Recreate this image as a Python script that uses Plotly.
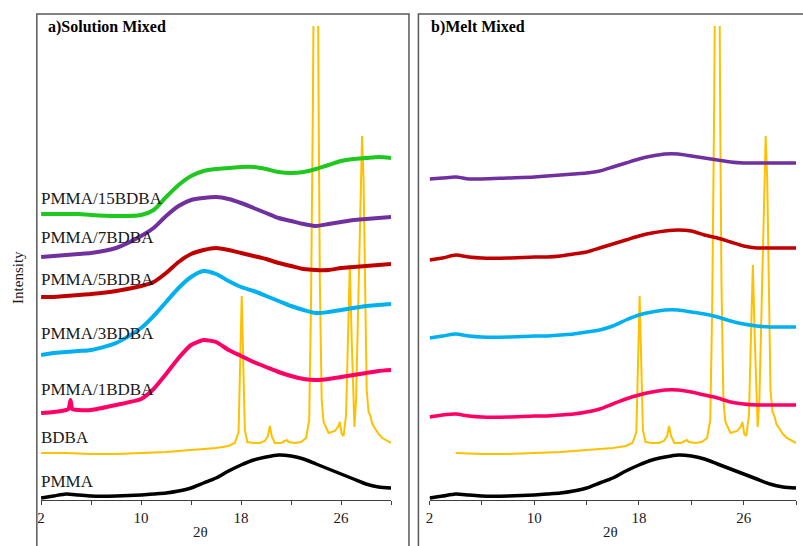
import plotly.graph_objects as go

W, H = 803, 546

# 2-theta grid used for the amorphous (polymer) scans
two_theta = [2, 3, 4, 5, 6, 8, 10, 11, 12, 13, 14, 15, 16, 17, 18, 19, 20,
             21, 22, 23, 24, 25, 26, 27, 28, 29, 30]

# Neat PMMA (same scan in both panels)
pmma = [2, 4, 6, 5, 4, 4, 5, 6, 7, 9, 12, 17, 22, 29, 35, 40, 43, 45, 44, 41,
        36, 31, 26, 21, 16, 13, 12]

# Neat BDBA crystalline pattern
bdba_x = [2, 4, 6, 8, 10, 12, 14, 16, 17, 17.5, 17.8, 17.95, 18.05, 18.15,
          18.3, 18.5, 19.0, 19.5, 19.9, 20.15, 20.3, 20.45, 20.7, 21.2, 21.5,
          21.65, 21.8, 22.3, 22.8, 23.2, 23.45, 23.6, 23.75, 24.0, 24.2, 24.3,
          24.45, 24.6, 25.0, 25.5, 25.8, 25.9, 26.05, 26.2, 26.4, 26.55, 26.7,
          26.85, 27.0, 27.07, 27.2, 27.4, 27.55, 27.68, 27.8, 27.92, 28.05,
          28.2, 28.35, 28.5, 28.7, 29.0, 29.3, 29.6, 29.9, 30.0]
bdba_y = [47, 47, 46, 46, 47, 48, 50, 52, 54, 57, 68, 150, 204, 150,
          70, 58, 57, 57, 59, 64, 74, 64, 57, 57, 59,
          60, 58, 57, 58, 62, 80, 200, 400, 900, 400, 220,
          100, 78, 67, 69, 74, 78, 66, 64, 85, 160, 235,
          160, 80, 73, 100, 220, 320, 364, 320, 220, 110,
          88, 84, 76, 72, 66, 62, 60, 58, 57]

# a) solution mixed blends (stacked)
sol_1 = [87, 88, 90, 90, 90, 95, 101, 111, 126, 142, 155, 160, 158, 150, 144,
         138, 133, 128, 124, 121, 120, 121, 123, 125, 127, 129, 130]
sol_1_spike_x = [4.2, 4.35, 4.5]
sol_1_spike_y = [91, 100, 91]
sol_3 = [145, 147, 148, 149, 150, 157, 172, 184, 198, 212, 223, 229, 226, 219,
         213, 209, 204, 199, 194, 190, 187, 188, 190, 192, 194, 195, 196]
sol_5 = [203, 203, 204, 205, 206, 209, 214, 218, 227, 238, 246, 250, 252, 250,
         247, 244, 241, 237, 234, 231, 230, 230, 232, 233, 234, 235, 236]
sol_7 = [243, 244, 245, 246, 247, 252, 264, 272, 284, 294, 300, 302, 303, 301,
         297, 292, 287, 282, 279, 276, 274, 276, 278, 280, 281, 282, 283]
sol_15 = [286, 286, 286, 286, 285, 284, 285, 290, 303, 315, 324, 329, 331, 332,
          333, 333, 331, 328, 327, 328, 331, 335, 339, 341, 342, 343, 342]

# b) melt mixed blends (stacked)
melt_1 = [83, 85, 86, 84, 83, 83, 84, 84, 85, 86, 88, 91, 96, 101, 105, 108,
          110, 110, 108, 105, 102, 98, 96, 95, 95, 95, 95]
melt_3 = [162, 164, 166, 164, 163, 163, 164, 164, 165, 166, 168, 170, 174, 180,
          185, 188, 190, 190, 188, 186, 183, 179, 176, 174, 173, 173, 173]
melt_5 = [240, 242, 245, 243, 242, 242, 243, 243, 244, 246, 248, 252, 256, 260,
          264, 267, 269, 270, 269, 265, 262, 258, 254, 252, 252, 252, 252]
melt_7 = [321, 322, 323, 321, 321, 322, 323, 324, 325, 326, 327, 329, 333, 337,
          341, 344, 346, 346, 344, 342, 340, 338, 337, 337, 337, 337, 337]

series_names = ["PMMA/15BDBA", "PMMA/7BDBA", "PMMA/5BDBA", "PMMA/3BDBA",
                "PMMA/1BDBA", "BDBA", "PMMA"]
tick_vals = [2, 6, 10, 14, 18, 22, 26, 30]
tick_text = ["2", "", "10", "", "18", "", "26", ""]

C_GREEN = "#1ec81e"
C_PURPLE = "#7030a0"
C_RED = "#c00000"
C_BLUE = "#00b0f0"
C_PINK = "#ff0066"
C_ORANGE = "#ffc000"
C_BLACK = "#000000"

SERIF = "'Liberation Serif', 'Times New Roman', serif"


def px(x):
    return x / W


def py(y):
    return 1 - y / H


def merge_spike(xs, ys, sx, sy):
    pts = sorted(list(zip(xs, ys)) + list(zip(sx, sy)))
    return [p[0] for p in pts], [p[1] for p in pts]


fig = go.Figure()


def add_curve(x, y, color, width, axis, smooth=0.7):
    xa, ya = ("x", "y") if axis == 1 else ("x2", "y2")
    line = dict(color=color, width=width)
    if smooth:
        line.update(shape="spline", smoothing=smooth)
    fig.add_trace(go.Scatter(x=x, y=y, mode="lines", line=line,
                             xaxis=xa, yaxis=ya, showlegend=False,
                             hoverinfo="skip"))


# Panel a
add_curve(two_theta, pmma, C_BLACK, 3.5, 1)
add_curve(bdba_x, bdba_y, C_ORANGE, 2, 1, smooth=0)
p1x, p1y = merge_spike(two_theta, sol_1, sol_1_spike_x, sol_1_spike_y)
add_curve(p1x, p1y, C_PINK, 4, 1, smooth=0.5)
add_curve(two_theta, sol_3, C_BLUE, 4, 1)
add_curve(two_theta, sol_5, C_RED, 4, 1)
add_curve(two_theta, sol_7, C_PURPLE, 4, 1)
add_curve(two_theta, sol_15, C_GREEN, 4, 1)

# Panel b
add_curve(two_theta, pmma, C_BLACK, 3.5, 2)
bx = [x for x in bdba_x if x >= 3]
by = [y for x, y in zip(bdba_x, bdba_y) if x >= 3]
add_curve(bx, by, C_ORANGE, 2, 2, smooth=0)
add_curve(two_theta, melt_1, C_PINK, 3.5, 2)
add_curve(two_theta, melt_3, C_BLUE, 3.5, 2)
add_curve(two_theta, melt_5, C_RED, 3.5, 2)
add_curve(two_theta, melt_7, C_PURPLE, 3.5, 2)

xaxis_style = dict(range=[2, 30], showline=True, linecolor="#404040",
                   linewidth=1, ticks="outside", ticklen=4, tickwidth=1,
                   tickcolor="#404040", tickvals=tick_vals, ticktext=tick_text,
                   tickfont=dict(family=SERIF, size=15, color="#1a1a1a"),
                   showgrid=False, zeroline=False, fixedrange=True)
yaxis_style = dict(range=[0, 474], visible=False, showgrid=False,
                   zeroline=False, fixedrange=True,
                   domain=[py(500), py(26)])

fig.update_layout(
    width=W, height=H,
    margin=dict(l=0, r=0, t=0, b=0),
    paper_bgcolor="white", plot_bgcolor="white",
    xaxis=dict(domain=[px(37.3), px(389)], anchor="y", **xaxis_style),
    xaxis2=dict(domain=[px(427.7), px(796)], anchor="y2", **xaxis_style),
    yaxis=dict(anchor="x", **yaxis_style),
    yaxis2=dict(anchor="x2", **yaxis_style),
    showlegend=False,
)

# Panel frames (open at the bottom edge of the page)
frame = dict(color="#595959", width=1.5)
fig.add_shape(type="rect", xref="paper", yref="paper", x0=px(33), x1=px(407),
              y0=-0.05, y1=py(14), line=frame, layer="above")
fig.add_shape(type="rect", xref="paper", yref="paper", x0=px(416.5), x1=1.05,
              y0=-0.05, y1=py(14), line=frame, layer="above")

annotations = []


def note(text, x, y, size, xanchor="left", angle=0, color="#1a1a1a"):
    annotations.append(dict(text=text, x=px(x), y=py(y), xref="paper",
                            yref="paper", xanchor=xanchor, yanchor="middle",
                            showarrow=False, textangle=angle,
                            font=dict(family=SERIF, size=size, color=color)))


note("<b>a)Solution Mixed</b>", 42, 27, 16, color="#000000")
note("<b>b)Melt Mixed</b>", 427, 27, 16, color="#000000")
note("Intensity", 14, 277, 15, xanchor="center", angle=-90)
note("2θ", 197, 532, 15, xanchor="center")
note("2θ", 610, 532, 15, xanchor="center")

label_y = [198, 237, 279, 333, 389, 437, 481]
for name, yy in zip(series_names, label_y):
    note(name, 35, yy, 17)

fig.update_layout(annotations=annotations)

fig.write_html("out.html")
